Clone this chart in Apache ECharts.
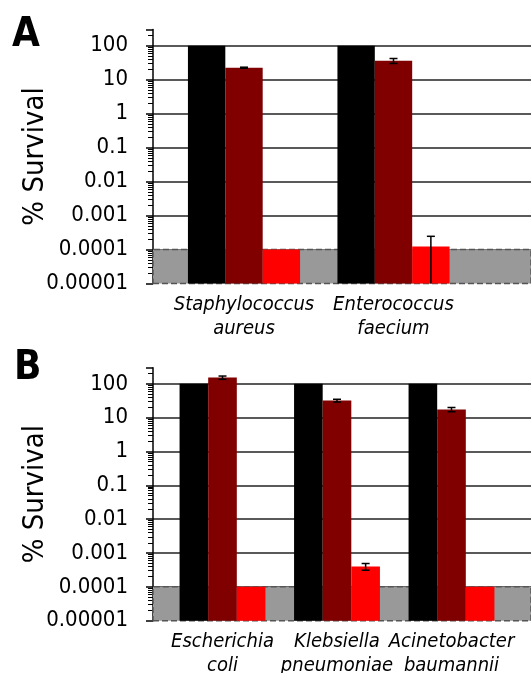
<!DOCTYPE html>
<html><head><meta charset="utf-8">
<script src="https://cdn.jsdelivr.net/npm/echarts@6/dist/echarts.min.js"></script>
<style>html,body{margin:0;padding:0;background:#fff}#c{width:531px;height:673px}</style>
</head><body><div id="c"></div>
<script>
// ---------- data ----------
const yTickLabels = ['0.00001', '0.0001', '0.001', '0.01', '0.1', '1', '10', '100'];
const Y_MIN = 0.00001;
const Y_MAX = 300;
const DETECT_LIMIT = 0.0001;

const catsA = ['Staphylococcus\naureus', 'Enterococcus\nfaecium'];
const blackA = [100, 100];
const darkA = [22.5, 36];
const darkErrA = [0.8, 6];
const redA = [0.0001, 0.000122];
const redErrA = [0, 0.000123];

const catsB = ['Escherichia\ncoli', 'Klebsiella\npneumoniae', 'Acinetobacter\nbaumannii'];
const blackB = [100, 100, 100];
const darkB = [153, 32, 17.5];
const darkErrB = [17, 3, 2.5];
const redB = [0.0001, 0.0004, 0.0001];
const redErrB = [0, 0.00009, 0];

// ---------- helpers ----------
const FONT = '"DejaVu Sans Condensed", "DejaVu Sans", sans-serif';
const COLORS = ['#000000', '#800000', '#ff0000'];

function tickFormatter(v) {
  const lg = Math.log10(v);
  const e = Math.round(lg);
  if (Math.abs(lg - e) > 1e-6) return '';
  const s = yTickLabels[e + 5];
  return s === undefined ? '' : s;
}

function barRender(slot) {
  return function (params, api) {
    const cat = api.value(0), v = api.value(1);
    const top = api.coord([cat, v]);
    const base = api.coord([cat, Y_MIN]);
    const band = api.size([1, 0])[0];
    const w = band * 0.25;
    const cx = top[0] + (slot - 1) * w;
    return {
      type: 'rect',
      shape: { x: cx - w / 2, y: top[1], width: w, height: base[1] - top[1] },
      style: { fill: COLORS[slot] }
    };
  };
}

function errRender(params, api) {
  const cat = api.value(0), lo = api.value(1), hi = api.value(2), slot = api.value(3), lowCap = api.value(4);
  const band = api.size([1, 0])[0];
  const w = band * 0.25;
  const pHi = api.coord([cat, hi]);
  const pLo = api.coord([cat, lo]);
  const x = pHi[0] + (slot - 1) * w;
  const cap = 4;
  const st = { stroke: '#000', lineWidth: 1.5 };
  const children = [
    { type: 'line', shape: { x1: x, y1: pHi[1], x2: x, y2: pLo[1] }, style: st },
    { type: 'line', shape: { x1: x - cap, y1: pHi[1], x2: x + cap, y2: pHi[1] }, style: st }
  ];
  if (lowCap) children.push({ type: 'line', shape: { x1: x - cap, y1: pLo[1], x2: x + cap, y2: pLo[1] }, style: st });
  return { type: 'group', children };
}

function errData(vals, errs, slot) {
  const out = [];
  vals.forEach((v, i) => {
    const e = errs[i];
    if (!e) return;
    const lo = v - e;
    out.push([i, Math.max(lo, Y_MIN), v + e, slot, lo > Y_MIN ? 1 : 0]);
  });
  return out;
}

const gridsPos = [
  { left: 153, top: 29.5, width: 378, height: 254 },     // A background
  { left: 169.25, top: 29.5, width: 299, height: 254 },  // A bars
  { left: 153, top: 367.7, width: 378, height: 253 },    // B background
  { left: 165.25, top: 367.7, width: 343.5, height: 253 } // B bars
];

function bgY(g) {
  return {
    type: 'log', logBase: 10, min: Y_MIN, max: Y_MAX, gridIndex: g,
    axisLine: { show: true, lineStyle: { color: '#000', width: 1.5 } },
    axisTick: { show: true, length: 7, lineStyle: { color: '#000', width: 1.5 } },
    minorTick: { show: true, splitNumber: 9, length: 5, lineStyle: { color: '#000', width: 1 } },
    axisLabel: { formatter: tickFormatter, fontSize: 22, color: '#000', margin: 25, fontFamily: FONT },
    splitLine: { show: true, showMinLine: false, showMaxLine: false, lineStyle: { color: '#222', width: 1.5 } },
    minorSplitLine: { show: false },
    name: '% Survival', nameLocation: 'middle', nameGap: 103, nameMoveOverlap: false,
    nameTextStyle: { fontSize: 29, fontFamily: FONT, color: '#000' }
  };
}
function barY(g) {
  return { type: 'log', logBase: 10, min: Y_MIN, max: Y_MAX, gridIndex: g, show: false };
}
function bgX(g) {
  return { type: 'value', min: 0, max: 1, gridIndex: g, show: false };
}
function barX(g, cats) {
  return {
    type: 'category', data: cats, gridIndex: g,
    axisLine: { show: false }, axisTick: { show: false }, splitLine: { show: false },
    axisLabel: { interval: 0, fontSize: 20, fontStyle: 'italic', color: '#000', fontFamily: FONT, lineHeight: 24, margin: 9 }
  };
}
function bgSeries(idx) {
  return {
    type: 'line', xAxisIndex: idx, yAxisIndex: idx, data: [[0, null]], z: 1, silent: true,
    markArea: {
      silent: true,
      itemStyle: { color: '#999999', borderColor: '#555', borderWidth: 1.5, borderType: 'dashed' },
      data: [[{ xAxis: 0, yAxis: Y_MIN }, { xAxis: 1, yAxis: DETECT_LIMIT }]]
    }
  };
}
function barSeries(idx, vals, slot, name) {
  return {
    type: 'custom', name, xAxisIndex: idx, yAxisIndex: idx, z: 3,
    renderItem: barRender(slot), encode: { x: 0, y: 1 },
    data: vals.map((v, i) => [i, v])
  };
}
function errSeries(idx, data) {
  return {
    type: 'custom', xAxisIndex: idx, yAxisIndex: idx, z: 4,
    renderItem: errRender, encode: { x: 0, y: [1, 2] }, data
  };
}

const chart = echarts.init(document.getElementById('c'), null, { renderer: 'canvas' });
chart.setOption({
  animation: false,
  backgroundColor: '#fff',
  title: [
    { text: 'A', left: 12, top: 16, padding: 0, textStyle: { fontSize: 40, fontWeight: 'bold', fontFamily: FONT, color: '#000' } },
    { text: 'B', left: 14, top: 349, padding: 0, textStyle: { fontSize: 40, fontWeight: 'bold', fontFamily: FONT, color: '#000' } }
  ],
  grid: gridsPos.map(p => Object.assign({ containLabel: false, outerBoundsMode: 'none' }, p)),
  xAxis: [bgX(0), barX(1, catsA), bgX(2), barX(3, catsB)],
  yAxis: [bgY(0), barY(1), bgY(2), barY(3)],
  series: [
    bgSeries(0),
    barSeries(1, blackA, 0, 'control'),
    barSeries(1, darkA, 1, 'treatment 1'),
    barSeries(1, redA, 2, 'treatment 2'),
    errSeries(1, errData(darkA, darkErrA, 1).concat(errData(redA, redErrA, 2))),
    bgSeries(2),
    barSeries(3, blackB, 0, 'control'),
    barSeries(3, darkB, 1, 'treatment 1'),
    barSeries(3, redB, 2, 'treatment 2'),
    errSeries(3, errData(darkB, darkErrB, 1).concat(errData(redB, redErrB, 2)))
  ]
});
</script>
</body></html>
